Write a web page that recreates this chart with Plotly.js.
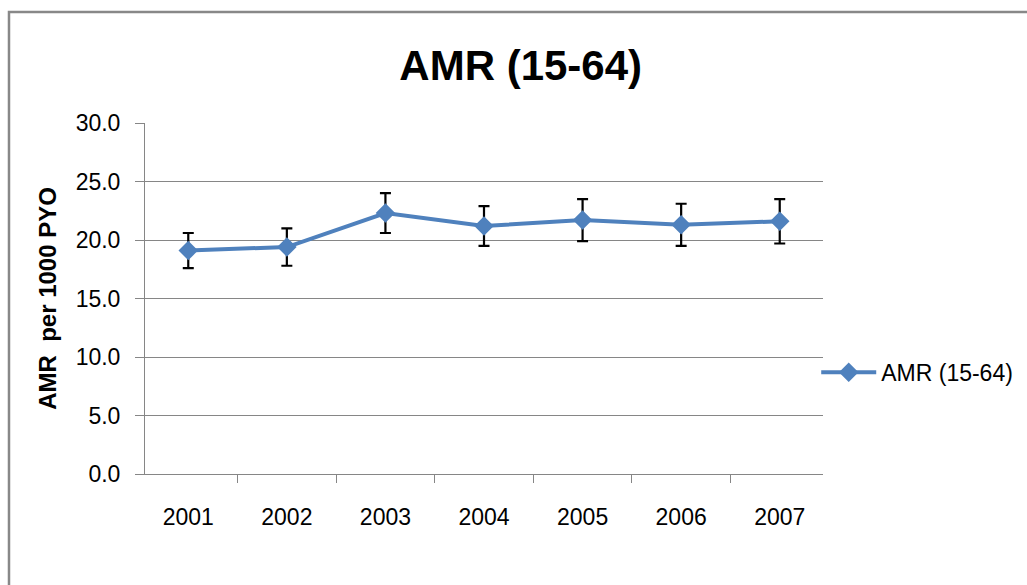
<!DOCTYPE html>
<html>
<head>
<meta charset="utf-8">
<script src="https://cdn.plot.ly/plotly-3.0.1.min.js"></script>
<style>html,body{margin:0;padding:0;background:#fff;}#chart{width:1027px;height:585px;}</style>
</head>
<body>
<div id="chart"></div>
<script>
const years = ["2001", "2002", "2003", "2004", "2005", "2006", "2007"];
const amr = [19.1, 19.4, 22.3, 21.2, 21.7, 21.3, 21.6];
const amrError = [1.5, 1.6, 1.7, 1.7, 1.8, 1.8, 1.9];
const seriesName = "AMR (15-64)";
const chartTitle = "AMR (15-64)";
const yTitle = "AMR  per 1000 PYO";

const FONT = "Liberation Sans, Arial, sans-serif";
const trace = {
  x: years, y: amr, type: "scatter", mode: "lines+markers", name: seriesName,
  line: {color: "#4F81BD", width: 4},
  marker: {symbol: "diamond", size: 15, color: "#4F81BD"},
  error_y: {type: "data", array: amrError, visible: true, color: "#000000", thickness: 2.2, width: 5.5}
};
const layout = {
  width: 1027, height: 585,
  margin: {l: 145, r: 204, t: 123, b: 111, autoexpand: false},
  paper_bgcolor: "#ffffff", plot_bgcolor: "#ffffff",
  font: {family: FONT, size: 23, color: "#000000"},
  title: {text: "<b>" + chartTitle + "</b>", font: {family: FONT, size: 42, color: "#000"},
          x: 0.507, xref: "container", xanchor: "center", y: 0.889, yref: "container", yanchor: "middle"},
  xaxis: {type: "category", tickson: "boundaries", ticks: "outside", ticklen: 8, tickcolor: "#868686",
          showline: true, linecolor: "#868686", linewidth: 1, showgrid: false, zeroline: false,
          ticklabelstandoff: 22, tickfont: {family: FONT, size: 23, color: "#000"}},
  yaxis: {range: [0, 30], dtick: 5, tickformat: ".1f", ticks: "outside", ticklen: 9, tickcolor: "#868686",
          showline: true, linecolor: "#868686", linewidth: 1, showgrid: true, gridcolor: "#868686", gridwidth: 1,
          zeroline: false, ticklabelstandoff: 10, tickfont: {family: FONT, size: 23, color: "#000"},
          title: {text: "<b>" + yTitle + "</b>", font: {family: FONT, size: 24, color: "#000"}, standoff: 12}},
  showlegend: true,
  legend: {x: 0.99, xanchor: "left", y: 0.29, yanchor: "middle", bgcolor: "rgba(0,0,0,0)", itemwidth: 55,
           font: {family: FONT, size: 23, color: "#000"}},
  shapes: [{type: "path", xref: "paper", yref: "paper",
            path: "M -0.2006,-0.5 L -0.2006,1.3162 L 1.4,1.3162",
            line: {color: "#888888", width: 2.5}}]
};
Plotly.newPlot("chart", [trace], layout, {displayModeBar: false, staticPlot: true});
</script>
</body>
</html>
